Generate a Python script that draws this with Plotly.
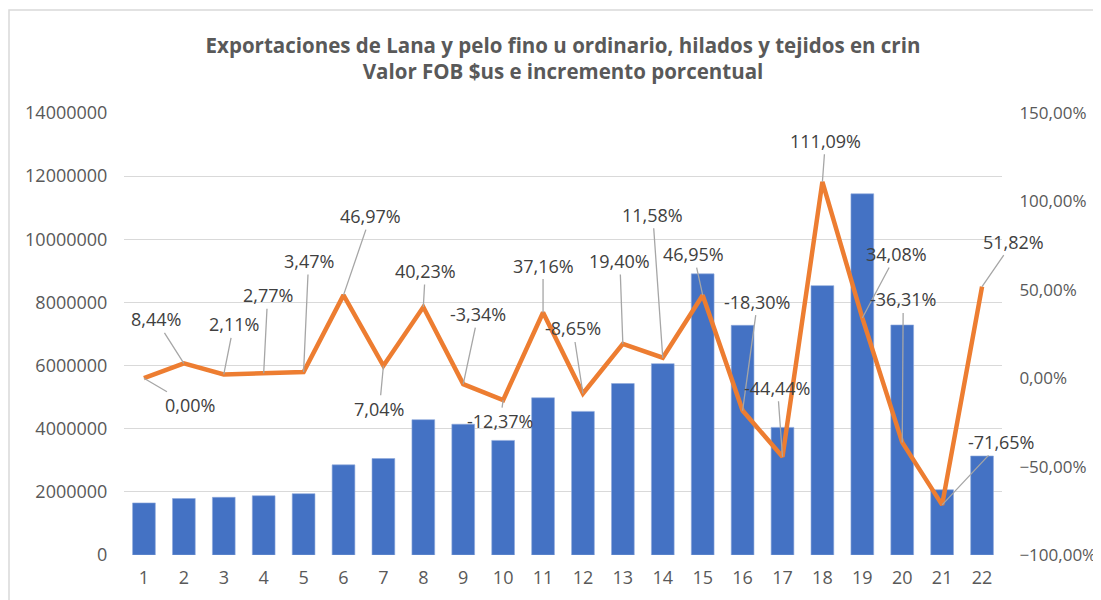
"""Exportaciones de lana: valor FOB (barras) e incremento porcentual (línea)."""

import plotly.graph_objects as go

PERIODOS = list(range(1, 23))
VALOR_FOB = [
    1650000, 1789000, 1827000, 1877000, 1943000, 2855000, 3056000, 4286000,
    4143000, 3630000, 4979000, 4549000, 5431000, 6060000, 8905000, 7275000,
    4042000, 8532000, 11440000, 7286000, 2066000, 3136000,
]
INCREMENTO = [
    0.0, 8.44, 2.11, 2.77, 3.47, 46.97, 7.04, 40.23, -3.34, -12.37, 37.16,
    -8.65, 19.40, 11.58, 46.95, -18.30, -44.44, 111.09, 34.08, -36.31,
    -71.65, 51.82,
]
# desplazamiento (px) de cada rótulo respecto a su punto
DESPL_X = [46, -28, 10, 4, 5, 27, -4, 2, 15, -3, 0, -10, -3, -10, -9, 15, -5, 3, 34, 1, 59, 31]
DESPL_Y = [27, -44, -50, -78, -111, -79, 43, -36, -70, 21, -47, -65, -83, -143, -41, -109, -69, -41, -64, -143, -63, -45]

AZUL = "#4472C4"
NARANJA = "#ED7D31"
GRIS_TXT = "#595959"
FUENTE = "Open Sans"

# la página añade 8 px de margen al cuerpo
ANCHO, ALTO = 1093, 592

fig = go.Figure()
fig.add_trace(go.Bar(
    x=PERIODOS, y=VALOR_FOB, marker_color=AZUL,
    marker_line=dict(color="#8FAADC", width=0.6), name="Valor FOB",
))
fig.add_trace(go.Scatter(
    x=PERIODOS, y=[v / 100 for v in INCREMENTO], yaxis="y2", mode="lines",
    line=dict(color=NARANJA, width=4.5), name="Incremento",
))

for x, v, dx, dy in zip(PERIODOS, INCREMENTO, DESPL_X, DESPL_Y):
    texto = f"{v:.2f}%".replace(".", ",")
    fig.add_annotation(
        x=x, y=v / 100, xref="x", yref="y2", text=texto,
        showarrow=True, arrowhead=0, arrowwidth=1.3, arrowcolor="#A6A6A6",
        ax=dx, ay=dy, standoff=0, startstandoff=0,
        font=dict(family=FUENTE, size=18, color="#404040"),
    )

fig.update_layout(
    width=ANCHO, height=ALTO,
    margin=dict(l=116, r=99, t=105, b=45),
    paper_bgcolor="white", plot_bgcolor="white",
    separators=",.",
    showlegend=False, bargap=0.43,
    font=dict(family=FUENTE, size=18, color=GRIS_TXT),
    title=dict(
        text="<b>Exportaciones de Lana y pelo fino u ordinario, hilados y tejidos en crin<br>"
             "Valor FOB $us e incremento porcentual</b>",
        x=0.5, xanchor="center", xref="paper",
        y=1 - 44.5 / ALTO, yanchor="middle", yref="container",
        font=dict(family=FUENTE, size=20.5, color=GRIS_TXT),
    ),
    xaxis=dict(
        tickmode="array", tickvals=PERIODOS, showgrid=False, zeroline=False,
        showline=False, ticks="outside", ticklen=6, tickcolor="white",
        range=[0.5, 22.5], tickfont=dict(size=18, color=GRIS_TXT),
    ),
    yaxis=dict(
        range=[0, 14000000], dtick=2000000, tickformat="d",
        showgrid=True, gridcolor="#D9D9D9", gridwidth=1.3, zeroline=False,
        showline=False, ticks="outside", ticklen=12, tickcolor="white",
        tickfont=dict(size=18, color=GRIS_TXT), automargin=False,
    ),
    yaxis2=dict(
        overlaying="y", side="right", range=[-1, 1.5], dtick=0.5,
        tickformat=".2%", showgrid=False, zeroline=False, showline=False,
        ticks="outside", ticklen=13, tickcolor="white",
        tickfont=dict(size=17, color=GRIS_TXT), automargin=False,
    ),
)

# marco del gráfico: sólo se ven los bordes superior e izquierdo
fig.add_shape(
    type="rect", xref="paper", yref="paper",
    x0=(1 - 116) / 878, x1=(1110 - 116) / 878,
    y0=(547 - 620) / 442, y1=(547 - 2) / 442,
    line=dict(color="#D9D9D9", width=1.5), fillcolor="rgba(0,0,0,0)", layer="below",
)

fig.write_html("out.html")
